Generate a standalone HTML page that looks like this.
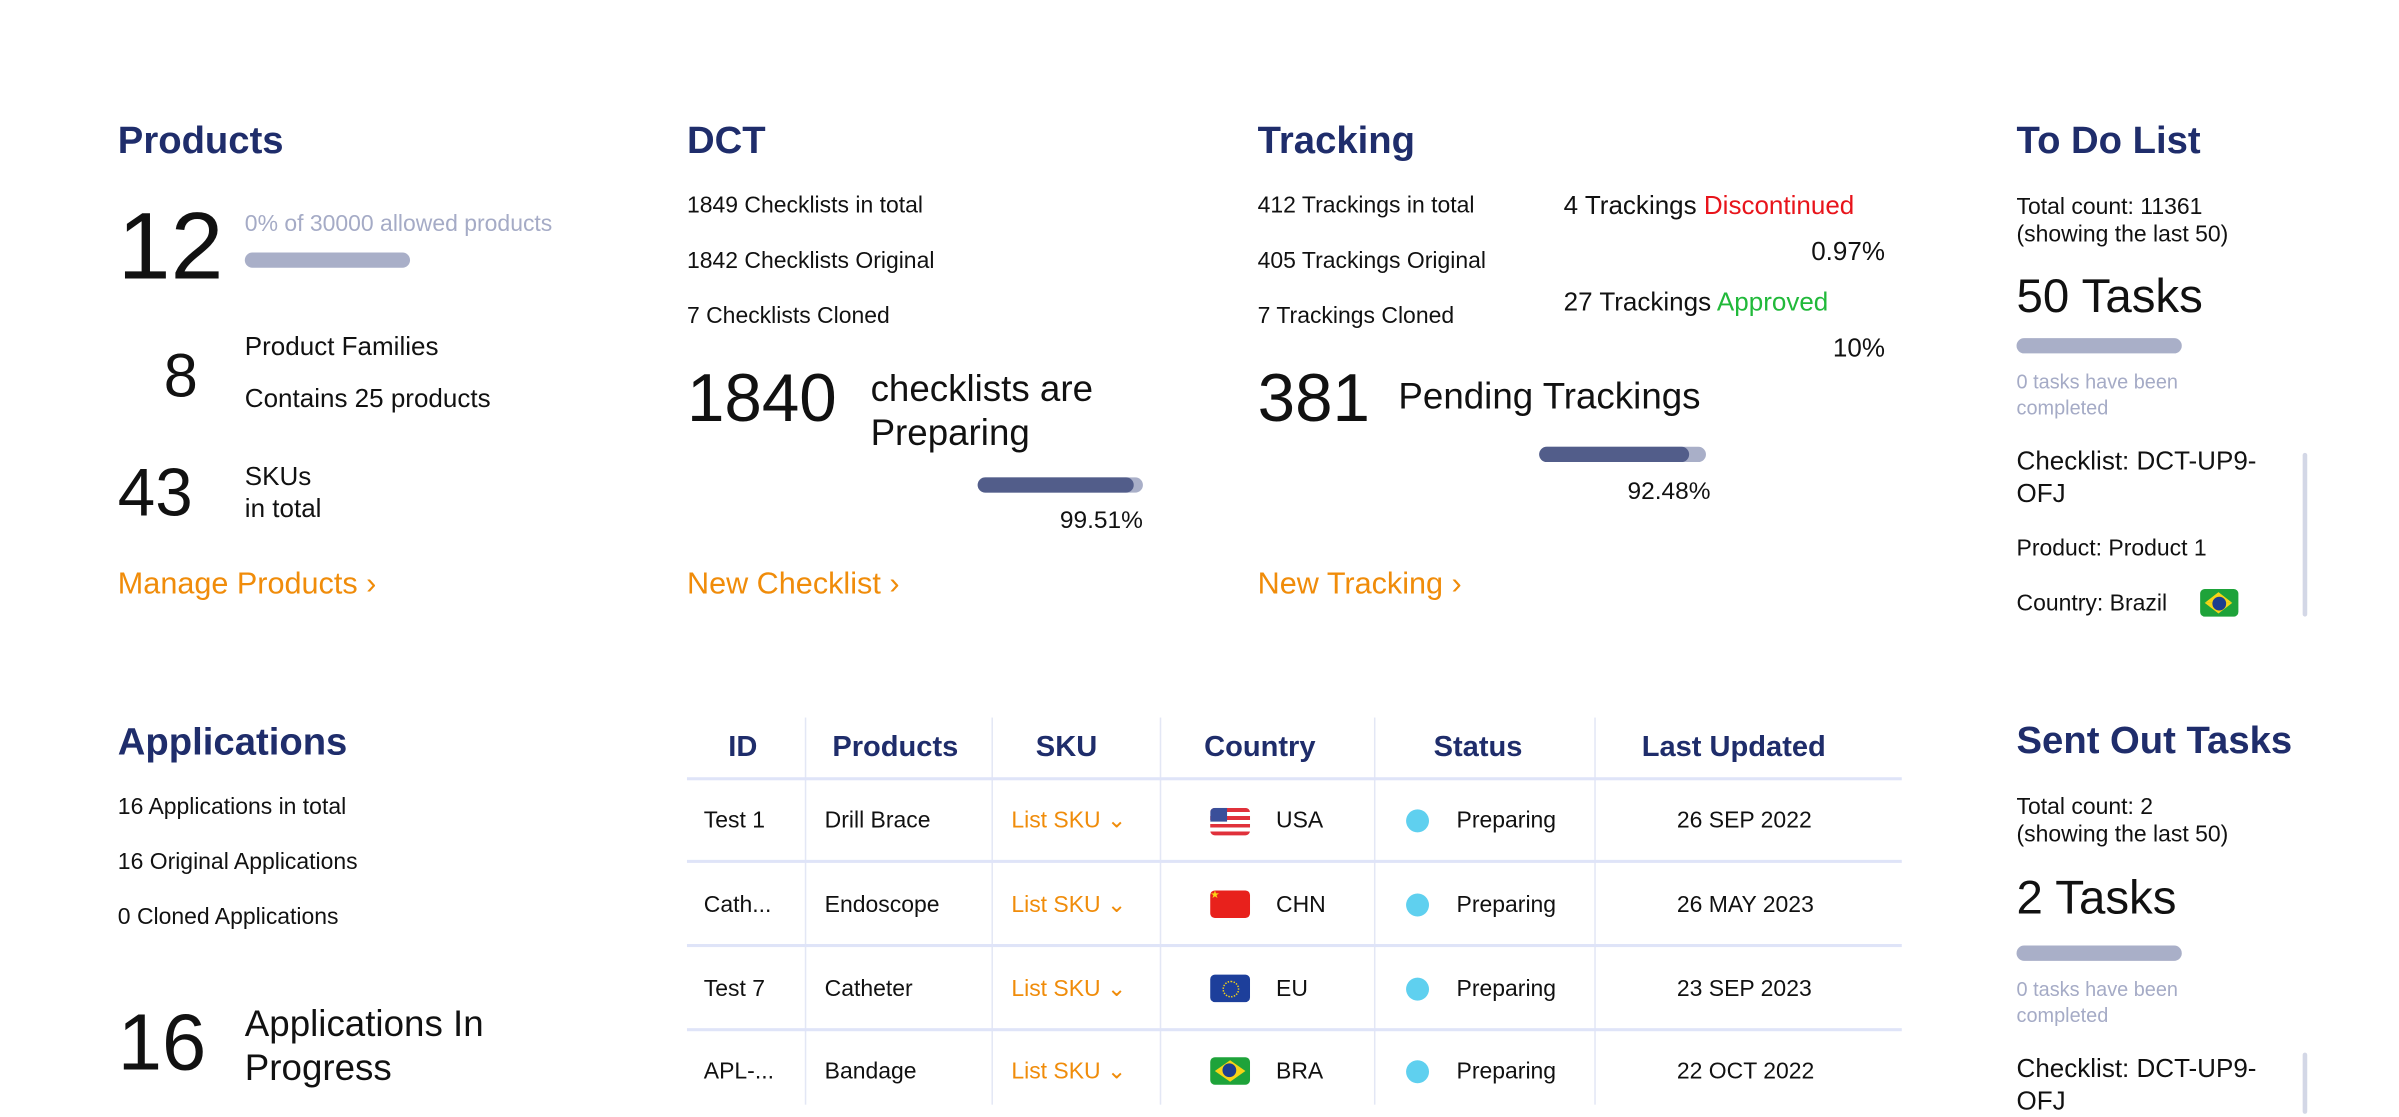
<!DOCTYPE html>
<html><head><meta charset="utf-8"><style>
html,body{margin:0;padding:0;background:#fff;overflow:hidden;width:2399px;height:1104px}
#s{position:absolute;left:0;top:0;width:1568px;height:722px;transform:scale(1.53);transform-origin:0 0;font-family:"Liberation Sans",Arial,sans-serif;color:#111}
.t{position:absolute;white-space:nowrap;line-height:1}
.h{font-weight:bold;font-size:25px;color:#1f2d6b}
.f15{font-size:15px}.f17{font-size:17px}.f24{font-size:24px}
.o{color:#f08c0a;font-size:20px}
.bar{position:absolute;height:10px;border-radius:5px;background:#a9afc8}
.dk{position:absolute;left:0;top:0;height:10px;border-radius:5px;background:#525d8a}
.g{color:#a5abc6}
.vl{position:absolute;width:1px;background:#e3e7f5;top:469px;height:253px}
.hl{position:absolute;left:449px;width:794px;height:2px;background:#dfe4f8}
.th{font-weight:bold;font-size:19px;color:#1f2d6b}
.td{font-size:15px}
.dot{position:absolute;width:15px;height:15px;border-radius:50%;background:#5fd0ef}
.fl{position:absolute;width:26px;height:18px;border-radius:3px;overflow:hidden}
</style></head><body><div id="s">
<!-- Products -->
<div class="t h" style="left:77px;top:80px">Products</div>
<div class="t" style="left:77px;top:131px;font-size:62px">12</div>
<div class="t f15 g" style="left:160px;top:139px">0% of 30000 allowed products</div>
<div class="bar" style="left:160px;top:165px;width:108px"></div>
<div class="t" style="left:107px;top:226px;font-size:40px">8</div>
<div class="t f17" style="left:160px;top:218px">Product Families</div>
<div class="t f17" style="left:160px;top:252px">Contains 25 products</div>
<div class="t" style="left:77px;top:301px;font-size:44px">43</div>
<div class="t f17" style="left:160px;top:303px">SKUs</div>
<div class="t f17" style="left:160px;top:324px">in total</div>
<div class="t o" style="left:77px;top:372px">Manage Products &#8250;</div>
<!-- DCT -->
<div class="t h" style="left:449px;top:80px">DCT</div>
<div class="t f15" style="left:449px;top:127px">1849 Checklists in total</div>
<div class="t f15" style="left:449px;top:163px">1842 Checklists Original</div>
<div class="t f15" style="left:449px;top:199px">7 Checklists Cloned</div>
<div class="t" style="left:449px;top:239px;font-size:44px">1840</div>
<div class="t f24" style="left:569px;top:240px;line-height:29px">checklists are<br>Preparing</div>
<div class="bar" style="left:639px;top:312px;width:108px"><div class="dk" style="width:102px"></div></div>
<div class="t" style="left:647px;top:333px;width:100px;text-align:right;font-size:16px">99.51%</div>
<div class="t o" style="left:449px;top:372px">New Checklist &#8250;</div>
<!-- Tracking -->
<div class="t h" style="left:822px;top:80px">Tracking</div>
<div class="t f15" style="left:822px;top:127px">412 Trackings in total</div>
<div class="t f15" style="left:822px;top:163px">405 Trackings Original</div>
<div class="t f15" style="left:822px;top:199px">7 Trackings Cloned</div>
<div class="t f17" style="left:1022px;top:126px">4 Trackings <span style="color:#e8141b">Discontinued</span></div>
<div class="t f17" style="left:1132px;top:156px;width:100px;text-align:right">0.97%</div>
<div class="t f17" style="left:1022px;top:189px">27 Trackings <span style="color:#21b93a">Approved</span></div>
<div class="t f17" style="left:1132px;top:219px;width:100px;text-align:right">10%</div>
<div class="t" style="left:822px;top:239px;font-size:44px">381</div>
<div class="t f24" style="left:914px;top:248px">Pending Trackings</div>
<div class="bar" style="left:1006px;top:292px;width:109px"><div class="dk" style="width:98px"></div></div>
<div class="t" style="left:1018px;top:314px;width:100px;text-align:right;font-size:16px">92.48%</div>
<div class="t o" style="left:822px;top:372px">New Tracking &#8250;</div>
<!-- To Do -->
<div class="t h" style="left:1318px;top:80px">To Do List</div>
<div class="t f15" style="left:1318px;top:127px;line-height:18px">Total count: 11361<br>(showing the last 50)</div>
<div class="t" style="left:1318px;top:178px;font-size:31px">50 Tasks</div>
<div class="bar" style="left:1318px;top:221px;width:108px"></div>
<div class="t g" style="left:1318px;top:241px;font-size:13px;line-height:17px">0 tasks have been<br>completed</div>
<div class="t f17" style="left:1318px;top:291px;line-height:21px">Checklist: DCT-UP9-<br>OFJ</div>
<div class="t f15" style="left:1318px;top:351px">Product: Product 1</div>
<div class="t f15" style="left:1318px;top:387px">Country: Brazil</div>
<div class="fl" style="left:1438px;top:385px;width:25px;background:#1ea33a"><div style="position:absolute;left:3px;top:2px;width:0;height:0;border-left:9.5px solid transparent;border-right:9.5px solid transparent;border-bottom:7px solid #f7d417"></div><div style="position:absolute;left:3px;top:9px;width:0;height:0;border-left:9.5px solid transparent;border-right:9.5px solid transparent;border-top:7px solid #f7d417"></div><div style="position:absolute;left:8px;top:5px;width:9px;height:9px;border-radius:50%;background:#1c3d8f"></div></div>
<div style="position:absolute;left:1505px;top:296px;width:3px;height:107px;border-radius:2px;background:#d3d7e6"></div>
<!-- Applications -->
<div class="t h" style="left:77px;top:473px">Applications</div>
<div class="t f15" style="left:77px;top:520px">16 Applications in total</div>
<div class="t f15" style="left:77px;top:556px">16 Original Applications</div>
<div class="t f15" style="left:77px;top:592px">0 Cloned Applications</div>
<div class="t" style="left:77px;top:656px;font-size:52px">16</div>
<div class="t f24" style="left:160px;top:655px;line-height:29px">Applications In<br>Progress</div>
<!-- Table -->
<div class="vl" style="left:526px"></div><div class="vl" style="left:648px"></div><div class="vl" style="left:758px"></div><div class="vl" style="left:898px"></div><div class="vl" style="left:1042px"></div>
<div class="hl" style="top:508px"></div><div class="hl" style="top:562px"></div><div class="hl" style="top:617px"></div><div class="hl" style="top:672px"></div>
<div class="t th" style="left:476px;top:479px">ID</div>
<div class="t th" style="left:544px;top:479px">Products</div>
<div class="t th" style="left:677px;top:479px">SKU</div>
<div class="t th" style="left:787px;top:479px">Country</div>
<div class="t th" style="left:937px;top:479px">Status</div>
<div class="t th" style="left:1073px;top:479px">Last Updated</div>

<div class="t td" style="left:460px;top:529px">Test 1</div>
<div class="t td" style="left:539px;top:529px">Drill Brace</div>
<div class="t td" style="left:661px;top:529px;color:#f08c0a">List SKU &#8964;</div>
<div class="fl" style="left:791px;top:528px;background:repeating-linear-gradient(#e0313b 0 2.6px,#fff 2.6px 5.2px)"><div style="width:11px;height:9px;background:#3a4f9a"></div></div>
<div class="t td" style="left:834px;top:529px">USA</div>
<div class="dot" style="left:919px;top:529px"></div><div class="t td" style="left:952px;top:529px">Preparing</div>
<div class="t td" style="left:1096px;top:529px">26 SEP 2022</div>

<div class="t td" style="left:460px;top:584px">Cath...</div>
<div class="t td" style="left:539px;top:584px">Endoscope</div>
<div class="t td" style="left:661px;top:584px;color:#f08c0a">List SKU &#8964;</div>
<div class="fl" style="left:791px;top:582px;background:#e8211c;color:#f9d616;font-size:7px;line-height:8px">&#9733;</div>
<div class="t td" style="left:834px;top:584px">CHN</div>
<div class="dot" style="left:919px;top:584px"></div><div class="t td" style="left:952px;top:584px">Preparing</div>
<div class="t td" style="left:1096px;top:584px">26 MAY 2023</div>

<div class="t td" style="left:460px;top:639px">Test 7</div>
<div class="t td" style="left:539px;top:639px">Catheter</div>
<div class="t td" style="left:661px;top:639px;color:#f08c0a">List SKU &#8964;</div>
<div class="fl" style="left:791px;top:637px;background:#1d3f9b"><div style="position:absolute;left:8px;top:4px;width:9px;height:9px;border-radius:50%;border:1px dotted #f7d417"></div></div>
<div class="t td" style="left:834px;top:639px">EU</div>
<div class="dot" style="left:919px;top:639px"></div><div class="t td" style="left:952px;top:639px">Preparing</div>
<div class="t td" style="left:1096px;top:639px">23 SEP 2023</div>

<div class="t td" style="left:460px;top:693px">APL-...</div>
<div class="t td" style="left:539px;top:693px">Bandage</div>
<div class="t td" style="left:661px;top:693px;color:#f08c0a">List SKU &#8964;</div>
<div class="fl" style="left:791px;top:691px;background:#1ea33a"><div style="position:absolute;left:3px;top:2px;width:0;height:0;border-left:10px solid transparent;border-right:10px solid transparent;border-bottom:7px solid #f7d417"></div><div style="position:absolute;left:3px;top:9px;width:0;height:0;border-left:10px solid transparent;border-right:10px solid transparent;border-top:7px solid #f7d417"></div><div style="position:absolute;left:8px;top:4px;width:9px;height:9px;border-radius:50%;background:#1c3d8f"></div></div>
<div class="t td" style="left:834px;top:693px">BRA</div>
<div class="dot" style="left:919px;top:693px"></div><div class="t td" style="left:952px;top:693px">Preparing</div>
<div class="t td" style="left:1096px;top:693px">22 OCT 2022</div>
<!-- Sent out -->
<div class="t h" style="left:1318px;top:472px">Sent Out Tasks</div>
<div class="t f15" style="left:1318px;top:519px;line-height:18px">Total count: 2<br>(showing the last 50)</div>
<div class="t" style="left:1318px;top:571px;font-size:31px">2 Tasks</div>
<div class="bar" style="left:1318px;top:618px;width:108px"></div>
<div class="t g" style="left:1318px;top:638px;font-size:13px;line-height:17px">0 tasks have been<br>completed</div>
<div class="t f17" style="left:1318px;top:688px;line-height:21px">Checklist: DCT-UP9-<br>OFJ</div>
<div style="position:absolute;left:1505px;top:688px;width:3px;height:40px;border-radius:2px;background:#d3d7e6"></div>
</div></body></html>
